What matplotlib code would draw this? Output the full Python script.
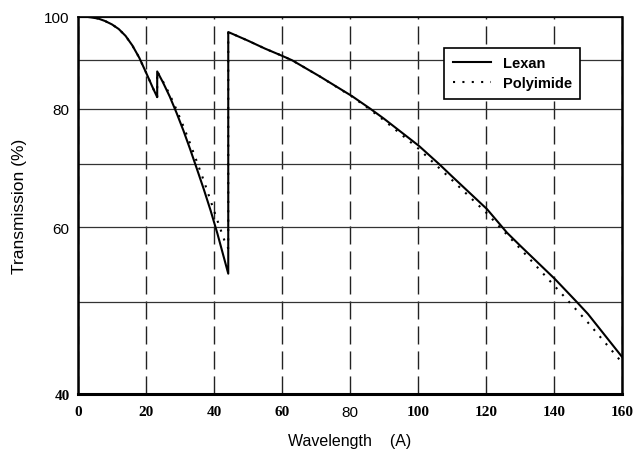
import matplotlib
matplotlib.use("Agg")
import matplotlib.pyplot as plt
from matplotlib.ticker import NullFormatter, FixedLocator

# Lexan transmission (three pieces split by the O and C K-edges)
lexan_wl = [0, 3, 6, 8, 10, 12, 14, 16, 18, 20, 22, 23.3,
            23.3, 25, 27, 29, 31, 33, 35, 37, 39, 41, 43, 44.2,
            44.2, 50, 55, 60, 63, 71, 80.6, 86, 90, 100.3, 106.5, 110, 120.3, 126.2, 130, 140.3, 146.8, 150, 160]
lexan_t = [100, 100, 99.6, 99.0, 98.2, 97.1, 95.5, 93.3, 90.6, 87.4, 84.2, 82.3,
           87.6, 85.3, 82.4, 79.2, 75.9, 72.5, 69.1, 65.8, 62.5, 59.1, 55.6, 53.6,
           96.4, 94.4, 92.6, 91.0, 90.0, 86.6, 82.5, 80.0, 78.1, 73.1, 69.8, 67.9, 62.7, 59.2, 57.4, 52.9, 50.0, 48.6, 43.8]

# Polyimide transmission
poly_wl = [0, 3, 6, 8, 10, 12, 14, 16, 18, 20, 22, 23.3,
           23.3, 25, 27, 29, 31, 33, 35, 37, 39, 41, 43, 44.2,
           44.2, 50, 55, 60, 63, 71, 80.6, 86, 90, 100, 110, 120, 130, 140, 150, 160]
poly_t = [100, 100, 99.6, 99.0, 98.2, 97.1, 95.5, 93.3, 90.6, 87.4, 84.2, 82.3,
          87.6, 85.5, 82.8, 79.8, 76.7, 73.5, 70.3, 67.2, 64.0, 61.0, 58.2, 57.0,
          96.4, 94.4, 92.6, 91.0, 90.0, 86.6, 82.4, 79.8, 77.8, 72.7, 67.3, 62.2, 57.0, 52.1, 47.6, 43.2]

x_ticks = [0, 20, 40, 60, 80, 100, 120, 140, 160]
y_ticks = [40, 60, 80, 100]
y_minor = [50, 70, 90]

sans = "Liberation Sans"
serif = "Liberation Serif"

fig = plt.figure(figsize=(6.34, 4.6), dpi=100)
ax = fig.add_axes([0.123, 0.141, 0.858, 0.82])

ax.plot(lexan_wl, lexan_t, color="black", lw=1.5, label="Lexan")
ax.plot(poly_wl, poly_t, color="black", lw=1.5, linestyle=(0, (1, 3.5)), label="Polyimide")

ax.set_yscale("log")
ax.set_xlim(0, 160)
ax.set_ylim(40, 100)
ax.yaxis.set_major_locator(FixedLocator(y_ticks))
ax.yaxis.set_minor_locator(FixedLocator(y_minor))
ax.yaxis.set_minor_formatter(NullFormatter())
ax.set_yticklabels([str(v) for v in y_ticks])
ax.set_xticks(x_ticks)
ax.set_xticklabels([str(v) for v in x_ticks])

# the scan mixes fonts on the tick labels
for lab in ax.get_xticklabels():
    if lab.get_text() == "80":
        lab.set_fontfamily(sans)
    else:
        lab.set_fontfamily(serif)
        lab.set_fontweight("bold")
    lab.set_fontsize(11)
for lab in ax.get_yticklabels():
    if lab.get_text() == "40":
        lab.set_fontfamily(serif)
        lab.set_fontweight("bold")
    else:
        lab.set_fontfamily(sans)
    lab.set_fontsize(11)

ax.tick_params(axis="both", which="both", length=0, pad=8)
ax.tick_params(axis="y", which="major", pad=6)

ax.grid(True, axis="x", color="#222222", lw=1.0, linestyle=(0, (13, 5)))
ax.grid(True, axis="y", which="both", color="#333333", lw=0.9)

for s in ax.spines.values():
    s.set_linewidth(1.2)
ax.spines["bottom"].set_linewidth(2.2)
ax.spines["left"].set_linewidth(1.8)
ax.spines["right"].set_linewidth(1.8)

ax.set_xlabel("Wavelength    (A)", fontfamily=sans, fontsize=11.5, labelpad=10)
ax.set_ylabel("Transmission (%)", fontfamily=sans, fontsize=12.5, labelpad=12)

leg = ax.legend(loc="upper right", bbox_to_anchor=(0.937, 0.938), fancybox=False,
                framealpha=1, edgecolor="black", prop={"family": sans, "size": 10.5, "weight": "bold"},
                handlelength=2.6, borderpad=0.6, labelspacing=0.4)
leg.get_frame().set_linewidth(1.2)

fig.savefig("out.png", dpi=100)
